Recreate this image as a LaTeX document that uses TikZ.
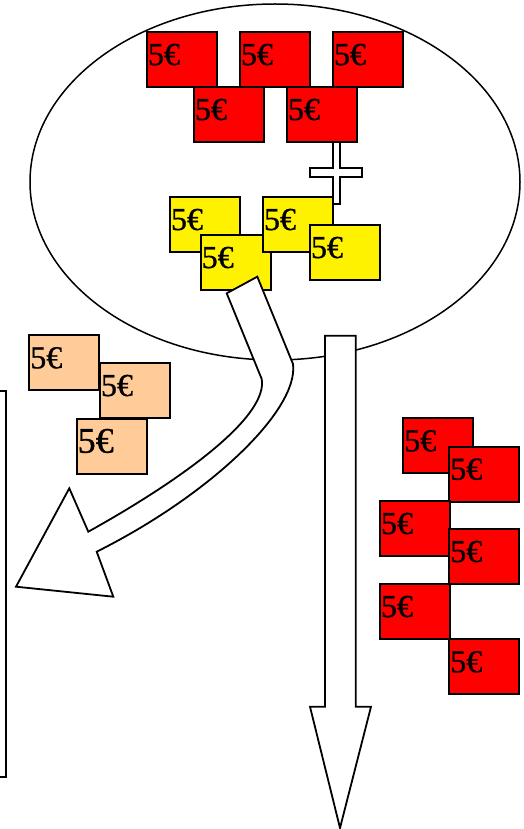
\documentclass[tikz,border=0pt]{standalone}
\usepackage{fontspec}
\setmainfont{Liberation Serif}
\newfontfamily\eurofont[FakeBold=0.8]{Liberation Serif}
\definecolor{peach}{HTML}{FFCC99}
\tikzset{
  note/.style={draw=black, fill=#1, line width=1.8pt, outer sep=0pt,
    anchor=north west, inner xsep=1pt, inner ysep=0pt,
    text width=68pt, align=left, text height=33pt, text depth=22pt,
    font=\eurofont\fontsize{32}{32}\selectfont},
  bignote/.style={note=#1, text height=33.7pt, text depth=21.3pt,
    font=\eurofont\fontsize{36}{36}\selectfont},
  outline/.style={draw=black, fill=white, line width=1.8pt, line join=miter},
}
\begin{document}
\begin{tikzpicture}[x=1pt,y=-1pt]
\useasboundingbox (0,0) rectangle (523,829);

% the pot
\draw[line width=1.5pt] (275,182) ellipse [x radius=245, y radius=178];

% plus sign between the two groups
\draw[outline] (333,142) -- (333,168) -- (310,168) -- (310,177) -- (333,177)
  -- (333,204) -- (340,204) -- (340,177) -- (362,177) -- (362,168)
  -- (340,168) -- (340,142) -- cycle;

% stakes in the pot
\node[note=red] (t1) at (147,32) {5€};
\node[note=red] (t2) at (240,32) {5€};
\node[note=red] (t3) at (333,32) {5€};
\node[note=red] (t4) at (194,87) {5€};
\node[note=red] (t5) at (287,87) {5€};

% added coins
\node[note=yellow] (y1) at (170,197) {5€};
\node[note=yellow] (y2) at (200.7,235) {5€};
\node[note=yellow] (y3) at (263,197) {5€};
\node[note=yellow] (y4) at (310,225) {5€};

% bent arrow out of the pot
\draw[outline] (226.7,293.3) -- (261.7,379)
  .. controls (268,415) and (190,475) .. (88.3,531.7)
  -- (69.3,488.3) -- (16,586.7) -- (113.3,596.7) -- (96.7,551.7)
  .. controls (210,495) and (299,410) .. (293,364)
  -- (257.3,276.7) -- cycle;

% straight arrow down
\draw[outline] (325,335.7) -- (325,706.7) -- (310,706.7) -- (340,828)
  -- (371,706.7) -- (355.7,706.7) -- (355.7,335.7) -- cycle;

% share on the left
\node[note=peach] (o1) at (29.3,335.3) {5€};
\node[note=peach] (o2) at (100,363) {5€};
\node[bignote=peach] (o3) at (76.7,419) {5€};

% share on the right
\node[note=red] (r1) at (403.3,418.3) {5€};
\node[note=red] (r2) at (449.3,446.7) {5€};
\node[note=red] (r3) at (380,501) {5€};
\node[note=red] (r4) at (449.3,529) {5€};
\node[note=red] (r5) at (380,584) {5€};
\node[note=red] (r6) at (449.3,639.3) {5€};

% receiving box at the left edge
\draw[line width=1.8pt] (-5,391) rectangle (6,777);
\end{tikzpicture}
\end{document}
